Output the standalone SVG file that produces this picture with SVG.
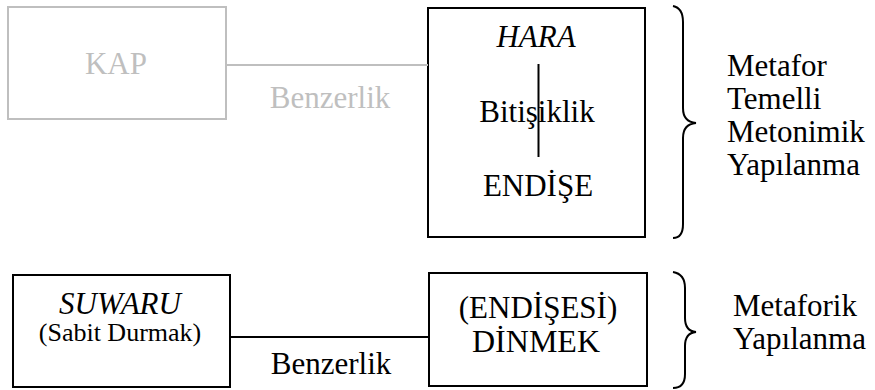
<svg xmlns="http://www.w3.org/2000/svg" width="875" height="390" viewBox="0 0 875 390">
<style>
.t{font-family:'Liberation Serif','Times New Roman',serif;font-size:31px;fill:#000}
.g{fill:#bfbfbf}
.i{font-style:italic}
.box{fill:none;stroke:#000;stroke-width:2}
.gbox{fill:none;stroke:#bfbfbf;stroke-width:2}
.ln{stroke:#000;stroke-width:2;fill:none}
.gln{stroke:#bfbfbf;stroke-width:2;fill:none}
.br{stroke:#000;stroke-width:2;fill:none}
</style>
<rect width="875" height="390" fill="#fff"/>
<g id="kap">
<rect class="gbox" x="8" y="7" width="218" height="112"/>
<text class="t g" x="116" y="74" text-anchor="middle">KAP</text>
</g>
<text class="t g" x="330" y="108" text-anchor="middle">Benzerlik</text>
<g id="hara">
<rect class="box" x="428" y="8" width="217" height="229"/>
<text class="t i" x="536" y="47" text-anchor="middle">HARA</text>
<text class="t" x="537" y="122" text-anchor="middle">Bitişiklik</text>
<text class="t" x="538" y="196" text-anchor="middle">ENDİŞE</text>
</g>
<g id="brace1">
<path class="br" d="M673,6 Q683,8 683,22 L683,108 Q683,122 696,123 Q683,124 683,138 L683,224 Q683,238 673,238"/>
<text class="t" x="727" y="76">Metafor</text>
<text class="t" x="727" y="109">Temelli</text>
<text class="t" x="727" y="142">Metonimik</text>
<text class="t" x="727" y="175">Yapılanma</text>
</g>
<g id="suwaru">
<rect class="box" x="13" y="275" width="217" height="112"/>
<text class="t i" x="120" y="314" text-anchor="middle">SUWARU</text>
<text class="t" x="120" y="341" text-anchor="middle" style="font-size:26px">(Sabit Durmak)</text>
</g>
<text class="t" x="331" y="374" text-anchor="middle">Benzerlik</text>
<g id="dinmek">
<rect class="box" x="429" y="273" width="218" height="113"/>
<text class="t" x="538" y="318" text-anchor="middle">(ENDİŞESİ)</text>
<text class="t" x="536" y="352" text-anchor="middle" style="font-size:32px">DİNMEK</text>
</g>
<g id="brace2">
<path class="br" d="M673,272 Q685,274 685,288 L685,318 Q685,331 696,332 Q685,333 685,346 L685,374 Q685,388 673,388"/>
<text class="t" x="733" y="316">Metaforik</text>
<text class="t" x="733" y="349">Yapılanma</text>
</g>
<g id="connectors">
<line class="gln" x1="226" y1="65" x2="428" y2="65"/>
<line class="ln" x1="230" y1="337" x2="430" y2="337"/>
<line class="ln" x1="538.5" y1="64" x2="538.5" y2="157"/>
</g>
</svg>
